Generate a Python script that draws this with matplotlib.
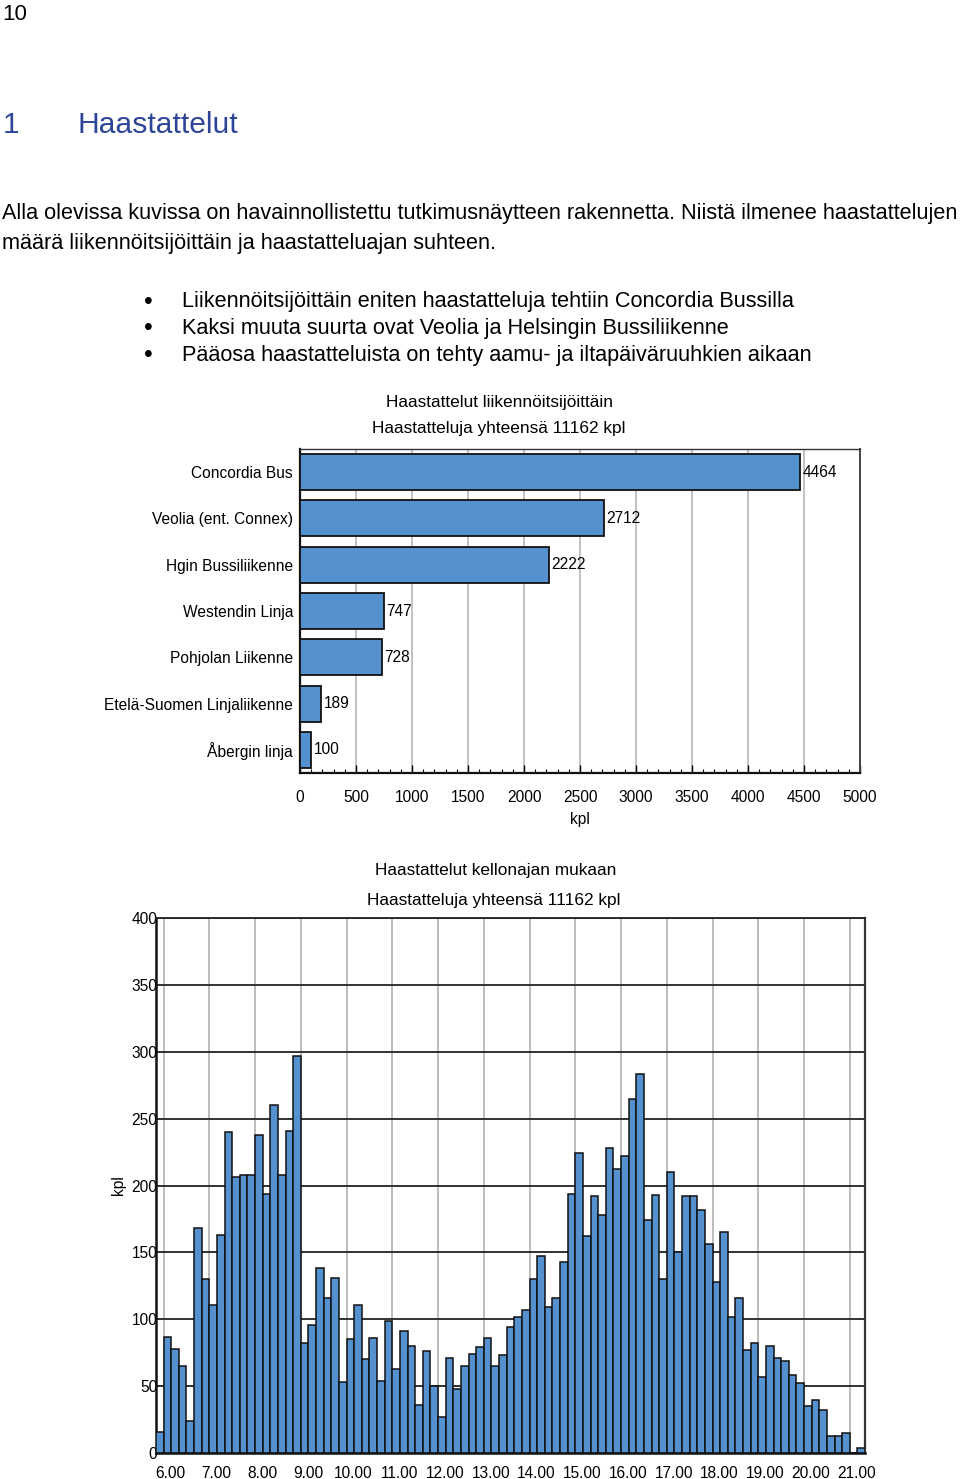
import numpy as np
import matplotlib
matplotlib.use("Agg")
import matplotlib.pyplot as plt
from matplotlib.ticker import MultipleLocator, FixedLocator

plt.rcParams['font.family'] = ['Liberation Sans', 'DejaVu Sans']

# ---------------- data ----------------
operators = ["Concordia Bus", "Veolia (ent. Connex)", "Hgin Bussiliikenne",
             "Westendin Linja", "Pohjolan Liikenne", "Etelä-Suomen Linjaliikenne",
             "Åbergin linja"]
operator_counts = [4464, 2712, 2222, 747, 728, 189, 100]

# 10-minute bins, first bin starts at 5.50
first_bin_start = 5 + 50 / 60
interval_counts = [
    16,
    87, 78, 65, 24, 168, 130,
    111, 163, 240, 206, 208, 208,
    238, 194, 260, 208, 241, 297,
    82, 96, 138, 116, 131, 53,
    85, 111, 70, 86, 54, 99,
    63, 91, 80, 36, 76, 50,
    27, 71, 48, 65, 74, 79,
    86, 65, 73, 94, 102, 107,
    130, 147, 109, 116, 143, 194,
    224, 162, 192, 178, 228, 212,
    222, 265, 283, 174, 193, 130,
    210, 150, 192, 192, 182, 156,
    128, 165, 102, 116, 77, 82,
    57, 80, 71, 69, 58, 52,
    35, 40, 32, 13, 13, 15,
    0, 4,
]
hour_labels = ["6.00", "7.00", "8.00", "9.00", "10.00", "11.00", "12.00", "13.00",
               "14.00", "15.00", "16.00", "17.00", "18.00", "19.00", "20.00", "21.00"]
hours = list(range(6, 22))

title1 = ["Haastattelut liikennöitsijöittäin", "Haastatteluja yhteensä 11162 kpl"]
title2 = ["Haastattelut kellonajan mukaan", "Haastatteluja yhteensä 11162 kpl"]

bar_color = '#5590CF'
W, H = 960, 1479
FS_BODY = 15.6
FS_CH = 11.2
FS_TITLE = 12.4

fig = plt.figure(figsize=(W / 100, H / 100), dpi=100)
fig.patch.set_facecolor('white')

def fx(x):
    return x / W

def fy(y):
    return 1 - y / H

# ---------------- page text ----------------
fig.text(fx(2), fy(14), "10", fontsize=16, va='center', ha='left')
head_col = '#2D4596'
fig.text(fx(3), fy(125), "1", fontsize=21.6, va='center', ha='left', color=head_col)
fig.text(fx(77), fy(125), "Haastattelut", fontsize=21.6, va='center', ha='left', color=head_col)

fig.text(fx(2), fy(213), "Alla olevissa kuvissa on havainnollistettu tutkimusnäytteen rakennetta. "
         "Niistä ilmenee haastattelujen", fontsize=FS_BODY, va='center', ha='left')
fig.text(fx(2), fy(243), "määrä liikennöitsijöittäin ja haastatteluajan suhteen.",
         fontsize=FS_BODY, va='center', ha='left')

bullets = ["Liikennöitsijöittäin eniten haastatteluja tehtiin Concordia Bussilla",
           "Kaksi muuta suurta ovat Veolia ja Helsingin Bussiliikenne",
           "Pääosa haastatteluista on tehty aamu- ja iltapäiväruuhkien aikaan"]
for i, b in enumerate(bullets):
    yy = 302 + i * 26.5
    fig.text(fx(148), fy(yy), "•", fontsize=18, va='center', ha='center')
    fig.text(fx(182), fy(yy), b, fontsize=FS_BODY, va='center', ha='left')

# ---------------- chart 1: horizontal bars ----------------
ax1 = fig.add_axes([fx(300), fy(773), (860 - 300) / W, (773 - 449) / H])
ypos = np.arange(len(operators))
ax1.barh(ypos, operator_counts, height=0.78, color=bar_color,
         edgecolor='#111111', linewidth=1.3, zorder=3)
ax1.set_ylim(len(operators) - 0.5, -0.5)
ax1.set_xlim(0, 5000)
ax1.set_yticks(ypos)
ax1.set_yticklabels(operators, fontsize=FS_CH)
ax1.tick_params(axis='y', length=0, pad=5)
ax1.xaxis.set_major_locator(MultipleLocator(500))
ax1.xaxis.set_minor_locator(MultipleLocator(100))
ax1.tick_params(axis='x', which='major', direction='in', length=6, width=1,
                labelsize=FS_CH, pad=12)
ax1.tick_params(axis='x', which='minor', direction='in', length=3, width=0.8)
ax1.grid(axis='x', which='major', color='#B0B0B0', linewidth=1.1, zorder=0)
ax1.set_axisbelow(True)
for v, yv in zip(operator_counts, ypos):
    ax1.annotate(str(v), (v, yv), xytext=(2, 0), textcoords='offset points',
                 va='center', ha='left', fontsize=FS_CH)
ax1.set_xlabel("kpl", fontsize=FS_CH, labelpad=5)
for s in ['left', 'bottom']:
    ax1.spines[s].set_linewidth(1.6)
    ax1.spines[s].set_color('#111111')
ax1.spines['top'].set_linewidth(1.0)
ax1.spines['top'].set_color('#333333')
ax1.spines['right'].set_linewidth(1.4)
ax1.spines['right'].set_color('#444444')

fig.text(fx(499), fy(402), title1[0], fontsize=FS_TITLE, ha='center', va='center')
fig.text(fx(499), fy(429), title1[1], fontsize=FS_TITLE, ha='center', va='center')

# ---------------- chart 2: 10-minute histogram ----------------
ax2 = fig.add_axes([fx(156), fy(1453), (865 - 156) / W, (1453 - 918) / H])
starts = first_bin_start + np.arange(len(interval_counts)) / 6
ax2.bar(starts, interval_counts, width=1 / 6, align='edge', color=bar_color,
        edgecolor='#111111', linewidth=1.1, zorder=3)
ax2.set_xlim(first_bin_start, first_bin_start + len(interval_counts) / 6)
ax2.set_ylim(0, 400)
ax2.yaxis.set_major_locator(MultipleLocator(50))
ax2.tick_params(axis='y', length=0, pad=-1, labelsize=FS_CH)
ax2.grid(axis='y', color='#222222', linewidth=1.3, zorder=1)
# hour gridlines
ax2.xaxis.set_minor_locator(FixedLocator(hours))
ax2.grid(axis='x', which='minor', color='#AAAAAA', linewidth=1.1, zorder=1)
ax2.xaxis.set_major_locator(FixedLocator([h + 0.155 for h in hours]))
ax2.set_xticklabels(hour_labels, fontsize=FS_CH)
ax2.tick_params(axis='x', which='both', length=0, pad=9)
ax2.set_axisbelow(True)
ax2.set_ylabel("kpl", fontsize=FS_CH, labelpad=4)
for s in ['left', 'bottom']:
    ax2.spines[s].set_linewidth(1.8)
    ax2.spines[s].set_color('#111111')
ax2.spines['top'].set_linewidth(1.3)
ax2.spines['top'].set_color('#222222')
ax2.spines['right'].set_linewidth(1.6)
ax2.spines['right'].set_color('#333333')
for lab in ax2.get_yticklabels():
    lab.set_zorder(6)

fig.text(fx(496), fy(871), title2[0], fontsize=FS_TITLE, ha='center', va='center')
fig.text(fx(494), fy(901), title2[1], fontsize=FS_TITLE, ha='center', va='center')

fig.savefig("out.png", dpi=100, facecolor='white')
